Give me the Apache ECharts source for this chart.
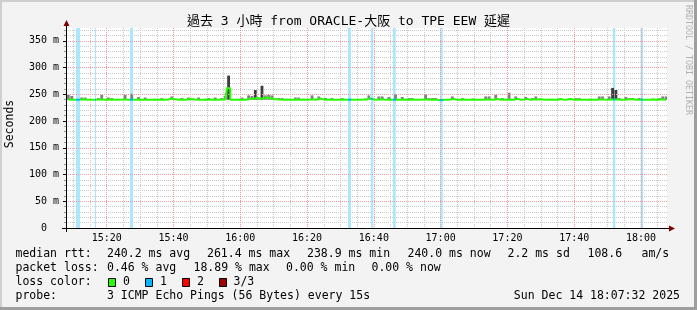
<!DOCTYPE html>
<html><head><meta charset="utf-8">
<script src="https://cdn.jsdelivr.net/npm/echarts@6/dist/echarts.min.js"></script>
<style>html,body{margin:0;padding:0;background:#f3f3f3}#c{width:697px;height:310px}</style>
</head><body><div id="c"></div>
<script>
// ---------------- data ----------------
const titleText = '過去 3 小時 from ORACLE-大阪 to TPE EEW 延遲';
const yAxisName = 'Seconds';
const xTickLabels = ['15:20','15:40','16:00','16:20','16:40','17:00','17:20','17:40','18:00'];
const yTickValues = [0, 50, 100, 150, 200, 250, 300, 350];
const axisStart = '15:07:48', axisEnd = '18:07:48';
const dataStart = '15:08:30';
const dataStepMin = 1;

// median rtt (ms), one value per minute
const median = [
240.1,240.0,239.9,240.0,240.2,240.1,240.0,239.8,240.0,240.1,
240.4,240.0,240.0,240.2,239.9,240.0,240.1,240.3,240.0,240.2,
240.0,240.1,239.9,240.0,240.0,239.8,240.1,240.0,240.2,240.0,
240.4,242.0,240.6,240.0,240.1,240.0,240.3,241.5,240.2,240.0,
239.9,240.1,240.0,240.2,240.0,239.8,240.1,240.3,261.4,240.0,
240.1,240.0,240.2,240.0,242.0,241.0,243.5,241.0,243.0,244.0,
242.5,241.5,240.5,240.2,240.0,240.1,240.0,239.9,240.2,240.0,
240.1,240.0,240.2,240.5,240.0,242.5,240.3,240.0,240.1,240.0,
239.9,240.0,240.2,240.0,240.1,240.0,240.0,239.9,240.1,240.5,
242.5,240.2,240.0,240.3,240.1,240.0,240.5,240.0,240.3,240.0,
240.4,240.0,240.1,240.0,239.9,240.0,240.1,240.2,240.0,240.1,
240.0,238.9,240.0,240.0,240.1,241.5,240.0,239.9,240.2,240.0,
240.0,240.1,240.0,239.9,240.0,240.2,240.1,240.0,241.5,240.0,
240.2,240.0,240.3,240.0,241.5,240.0,240.1,241.5,240.0,240.2,
240.3,241.2,240.0,239.9,240.1,240.0,240.0,241.2,240.0,240.1,
241.2,240.0,240.1,240.0,239.9,240.0,240.1,240.0,240.0,241.0,
240.2,240.0,240.1,240.2,240.1,240.0,240.0,240.3,241.0,240.5,
240.0,240.1,240.0,240.0,239.9,240.1,240.0,240.1,240.2,240.0
];
// lowest ping per minute (ms)
const smokeLow = [
239.5,239.6,239.5,239.5,239.6,239.5,239.5,239.4,239.5,239.6,
239.6,239.5,239.5,239.6,239.4,239.5,239.5,239.6,239.5,239.6,
239.5,239.6,239.4,239.5,239.5,239.4,239.5,239.5,239.6,239.5,
239.6,239.8,239.6,239.5,239.5,239.5,239.6,239.7,239.6,239.5,
239.4,239.5,239.5,239.6,239.5,239.4,239.5,239.6,240.0,239.5,
239.5,239.5,239.6,239.5,239.8,239.7,239.9,239.7,239.8,239.9,
239.8,239.7,239.6,239.6,239.5,239.5,239.5,239.4,239.6,239.5,
239.5,239.5,239.6,239.6,239.5,239.8,239.6,239.5,239.5,239.5,
239.4,239.5,239.6,239.5,239.5,239.5,239.5,239.4,239.5,239.6,
239.8,239.6,239.5,239.6,239.5,239.5,239.6,239.5,239.6,239.5,
239.6,239.5,239.5,239.5,239.4,239.5,239.5,239.6,239.5,239.5,
239.5,238.9,239.5,239.5,239.5,239.7,239.5,239.4,239.6,239.5,
239.5,239.5,239.5,239.4,239.5,239.6,239.5,239.5,239.7,239.5,
239.6,239.5,239.6,239.5,239.7,239.5,239.5,239.7,239.5,239.6,
239.6,239.7,239.5,239.4,239.5,239.5,239.5,239.7,239.5,239.5,
239.7,239.5,239.5,239.5,239.4,239.5,239.5,239.5,239.5,239.7,
239.6,239.5,239.5,239.8,239.8,239.5,239.5,239.6,239.7,239.6,
239.5,239.5,239.5,239.5,239.4,239.5,239.5,239.5,239.6,239.5
];
// highest ping per minute (ms)
const smokeHigh = [
249,247,241,241,244,244,241,241,241,243,
249,241,244,243,241,241,241,249,241,251,
241,245,241,244,241,241,241,241,243,241,
241,246,241,241,243,241,244,242,241,244,
241,241,243,241,244,241,243,247,285,241,
241,241,244,241,248,247,258,244,266,248,
249,248,242,243,243,241,241,241,244,244,
241,241,241,248,241,246,243,243,241,243,
241,241,243,241,241,241,241,241,241,242,
248,241,241,246,246,241,245,241,250,241,
245,241,243,243,241,241,241,250,243,243,
243,241,241,241,241,246,241,241,243,241,
241,242,241,241,241,246,246,241,249,241,
243,241,253,241,246,241,241,245,241,243,
246,241,241,241,241,241,241,242,241,241,
242,241,243,243,241,241,241,241,241,246,
246,241,246,262,258,243,241,245,243,243,
241,243,241,241,241,242,241,243,246,246
];
// periods with 1 of 3 pings lost
const lossBands = [
['15:10:48','15:12:00'],['15:16:29','15:16:47'],['15:26:58','15:27:52'],
['16:32:16','16:33:10'],['16:39:09','16:39:50'],['16:45:44','16:46:33'],
['16:59:54','17:00:37'],['17:51:38','17:52:19'],['17:59:55','18:00:37']
];
const lossLegend = ['0', '1', '2', '3/3'];
const lossColors = ['#26ff00', '#00b8ff', '#ff0000', '#a00000'];
const rttStats = [240.2, 261.4, 238.9, 240.0];   // avg max min now
const rttSd = 2.2, rttAmps = 108.6;
const lossStats = [0.46, 18.89, 0.00, 0.00];     // avg max min now
const probeText = '3 ICMP Echo Pings (56 Bytes) every 15s';
const stampText = 'Sun Dec 14 18:07:32 2025';
const creditText = 'RRDTOOL / TOBI OETIKER';

// ---------------- build ----------------
const toMin = s => { const p = s.split(':').map(Number); return p[0] * 60 + p[1] + (p[2] || 0) / 60; };
const xMin = toMin(axisStart), xMax = toMin(axisEnd);
const t0 = toMin(dataStart);
const times = median.map((_, i) => t0 + i * dataStepMin);
const majorX = xTickLabels.map(toMin);
const minorX = [];
for (let m = Math.ceil(xMin / 5) * 5; m <= xMax; m += 5) if (m % 20) minorX.push(m);
const Y_MAX = 374;
const minorY = [];
for (let v = 10; v < Y_MAX; v += 10) if (v % 50) minorY.push(v);
const fmtHM = v => { const h = Math.floor(v / 60), m = Math.round(v - h * 60); return String(h).padStart(2, '0') + ':' + String(m).padStart(2, '0'); };

const mono = "'DejaVu Sans Mono', 'Noto Sans CJK TC', monospace";
const minorColor = '#c9c9c9', majorColor = '#f19a9a';

function T(text, x, y, size, o) {
  o = o || {};
  return { type: 'text', x: x, y: y, rotation: o.rot || 0, silent: true, z: 10,
    style: { text: text, font: size + 'px ' + mono, fill: o.color || '#000',
      textAlign: o.align || 'left', align: o.align || 'left',
      textVerticalAlign: 'middle', verticalAlign: 'middle' } };
}
const f1 = v => v.toFixed(1), f2 = v => v.toFixed(2);
const LS = 11.5;
const graphics = [
  { type: 'rect', shape: { x: 0, y: 0, width: 697, height: 2 }, style: { fill: '#cfcfcf' }, silent: true },
  { type: 'rect', shape: { x: 0, y: 0, width: 2, height: 310 }, style: { fill: '#cfcfcf' }, silent: true },
  { type: 'rect', shape: { x: 0, y: 307, width: 697, height: 3 }, style: { fill: '#9e9e9e' }, silent: true },
  { type: 'rect', shape: { x: 694, y: 0, width: 3, height: 310 }, style: { fill: '#9e9e9e' }, silent: true },
  { type: 'line', shape: { x1: 66.5, y1: 24, x2: 66.5, y2: 28 }, style: { stroke: '#000', lineWidth: 1 }, silent: true },
  { type: 'line', shape: { x1: 66.5, y1: 228, x2: 66.5, y2: 232 }, style: { stroke: '#000', lineWidth: 1 }, silent: true },
  { type: 'line', shape: { x1: 62, y1: 228.5, x2: 66, y2: 228.5 }, style: { stroke: '#000', lineWidth: 1 }, silent: true },
  { type: 'line', shape: { x1: 667, y1: 228.5, x2: 670, y2: 228.5 }, style: { stroke: '#000', lineWidth: 1 }, silent: true },
  { type: 'polygon', shape: { points: [[63.5, 26], [69.5, 26], [66.5, 20]] }, style: { fill: '#800000' }, silent: true, z: 10 },
  { type: 'polygon', shape: { points: [[669, 225.5], [669, 231.5], [675, 228.5]] }, style: { fill: '#800000' }, silent: true, z: 10 },
  T(titleText, 348.5, 21.5, 13, { align: 'center' }),
  T(yAxisName, 10.5, 124, 11.5, { align: 'center', rot: Math.PI / 2 }),
  T(creditText, 688, 5, 8.3, { rot: -Math.PI / 2, color: '#b0b0b0' }),
  T('median rtt:', 15.5, 254.5, LS),
  T(f1(rttStats[0]) + ' ms avg', 107, 254.5, LS),
  T(f1(rttStats[1]) + ' ms max', 207, 254.5, LS),
  T(f1(rttStats[2]) + ' ms min', 307, 254.5, LS),
  T(f1(rttStats[3]) + ' ms now', 407.5, 254.5, LS),
  T(f1(rttSd) + ' ms sd', 507.5, 254.5, LS),
  T(f1(rttAmps), 587.5, 254.5, LS),
  T('am/s', 641.5, 254.5, LS),
  T('packet loss:', 15.5, 268.5, LS),
  T(f2(lossStats[0]) + ' % avg', 107, 268.5, LS),
  T(f2(lossStats[1]) + ' % max', 193.5, 268.5, LS),
  T(f2(lossStats[2]) + ' % min', 286, 268.5, LS),
  T(f2(lossStats[3]) + ' % now', 371.5, 268.5, LS),
  T('loss color:', 15.5, 282.5, LS),
  T('probe:', 15.5, 296.5, LS),
  T(probeText, 107, 296.5, LS),
  T(stampText, 680, 296.5, LS, { align: 'right' })
];
const boxX = [108.5, 145.5, 182.5, 219.5], boxTextX = [123, 160, 197, 233.5];
lossLegend.forEach((lab, k) => {
  graphics.push({ type: 'rect', shape: { x: boxX[k], y: 278.5, width: 7, height: 8 }, style: { fill: lossColors[k], stroke: '#000', lineWidth: 1 }, silent: true, z: 10 });
  graphics.push(T(lab, boxTextX[k], 282.5, LS));
});

const smokeData = times.map((t, i) => [t, smokeLow[i], smokeHigh[i]]);
function renderSmoke(params, api) {
  const t = api.value(0), lo = api.value(1), hi = api.value(2);
  const a = api.coord([t - 0.42, hi]), b = api.coord([t + 0.42, lo]);
  const dark = hi - lo > 15;
  return { type: 'rect', shape: { x: a[0], y: a[1], width: b[0] - a[0], height: b[1] - a[1] },
    style: { fill: dark ? '#3c3c3c' : '#808080' } };
}

const chart = echarts.init(document.getElementById('c'), null, { renderer: 'canvas' });
chart.setOption({
  backgroundColor: '#f3f3f3',
  animation: false,
  grid: { left: 66, right: 30, top: 28, bottom: 82, show: true, backgroundColor: '#ffffff', borderWidth: 0 },
  xAxis: [
    { type: 'value', min: xMin, max: xMax, position: 'bottom', z: 3,
      axisLine: { show: true, onZero: false, lineStyle: { color: '#000', width: 1 } },
      axisTick: { show: false, customValues: majorX },
      axisLabel: { customValues: majorX, formatter: fmtHM, color: '#000', fontFamily: mono, fontSize: 10, margin: 5 },
      splitLine: { show: true, lineStyle: { color: majorColor, width: 1, type: [1, 1] } } },
    { type: 'value', min: xMin, max: xMax, position: 'top', z: 1,
      axisLine: { show: false }, axisLabel: { show: false },
      axisTick: { show: false, customValues: minorX },
      splitLine: { show: true, lineStyle: { color: minorColor, width: 1, type: [1, 1] } } }
  ],
  yAxis: [
    { type: 'value', min: 0, max: Y_MAX, position: 'left', z: 3,
      axisLine: { show: true, onZero: false, lineStyle: { color: '#000', width: 1 } },
      axisTick: { show: true, length: 3, customValues: yTickValues, lineStyle: { color: '#000' } },
      axisLabel: { customValues: yTickValues, formatter: v => v === 0 ? '0  ' : v + ' m', color: '#000', fontFamily: mono, fontSize: 10, margin: 7 },
      splitLine: { show: true, lineStyle: { color: majorColor, width: 1, type: [1, 1] } } },
    { type: 'value', min: 0, max: Y_MAX, position: 'left', z: 1,
      axisLine: { show: false }, axisLabel: { show: false },
      axisTick: { show: true, length: 2, customValues: minorY, lineStyle: { color: '#999' } },
      splitLine: { show: true, lineStyle: { color: minorColor, width: 1, type: [1, 1] } } }
  ],
  visualMap: {
    type: 'piecewise', show: false, dimension: 0, seriesIndex: 2,
    pieces: lossBands.map(b => ({ gte: toMin(b[0]), lte: toMin(b[1]), color: lossColors[1] })),
    outOfRange: { color: lossColors[0] }
  },
  series: [
    { name: 'loss', type: 'line', xAxisIndex: 0, yAxisIndex: 0, silent: true, z: 1,
      data: times.map((t, i) => [t, median[i]]), showSymbol: false, lineStyle: { opacity: 0 },
      markArea: { silent: true, itemStyle: { color: '#ade6ff', opacity: 1 },
        data: lossBands.map(b => [{ xAxis: toMin(b[0]) }, { xAxis: toMin(b[1]) }]) } },
    { name: 'smoke', type: 'custom', silent: true, z: 2, renderItem: renderSmoke,
      data: smokeData, encode: { x: 0, y: [1, 2] }, clip: true },
    { name: 'median', type: 'line', step: 'middle', silent: true, z: 4,
      data: times.map((t, i) => [t, median[i]]), showSymbol: false, lineStyle: { width: 2 } }
  ],
  graphic: { elements: graphics }
});
</script></body></html>
